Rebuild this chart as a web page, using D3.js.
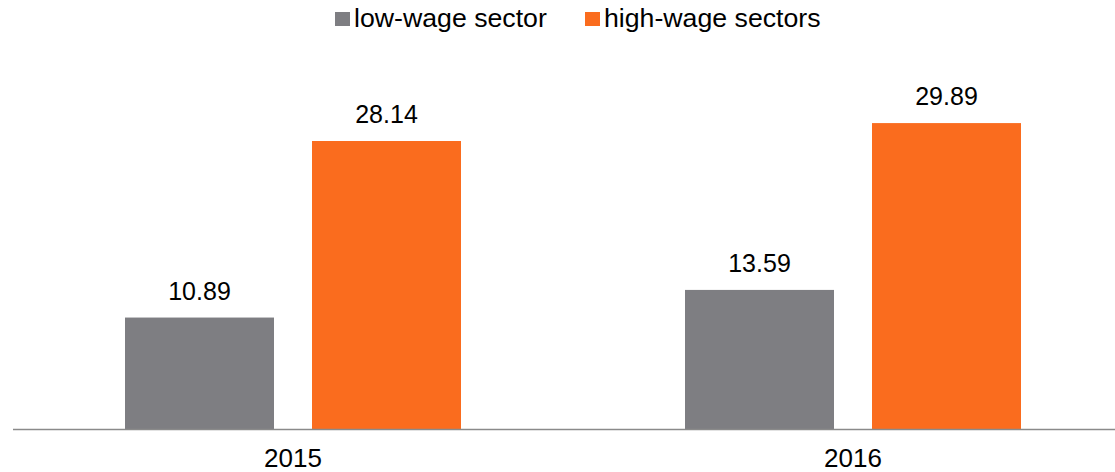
<!DOCTYPE html>
<html>
<head>
<meta charset="utf-8">
<script src="https://cdn.jsdelivr.net/npm/d3@7"></script>
<style>
  body { margin: 0; background: #fff; }
  text { font-family: "Liberation Sans", Arial, sans-serif; fill: #000; }
</style>
</head>
<body>
<div id="chart"></div>
<script>
var w = 1115,
    h = 472,
    m = [0, 0, 43, 13]; // top right bottom left

var years = ["2015", "2016"];
var seriesNames = ["low-wage sector", "high-wage sectors"];
var lowWage = [10.89, 13.59];
var highWage = [28.14, 29.89];
var colors = ["#7e7e82", "#fa6c1e"];

var baseY = h - m[2];

var x0 = d3.scaleBand()
    .domain(years)
    .range([m[3], m[3] + 1120]);

var y = d3.scaleLinear()
    .domain([0, 28.14])
    .range([baseY, 141]);

var svg = d3.select("#chart").append("svg")
    .attr("width", w)
    .attr("height", h);

var rows = years.map(function(yr, i) {
  return { year: yr, values: [lowWage[i], highWage[i]] };
});

var group = svg.selectAll("g.year")
    .data(rows)
  .enter().append("g")
    .attr("class", "year")
    .attr("transform", function(d) { return "translate(" + (x0(d.year) + x0.bandwidth() / 2) + ",0)"; });

var bw = 149;
function barX(j) { return j === 0 ? -168 : -168 + bw + 38; }

group.selectAll("rect")
    .data(function(d) { return d.values; })
  .enter().append("rect")
    .attr("x", function(d, j) { return barX(j); })
    .attr("width", bw)
    .attr("y", function(d) { return y(d); })
    .attr("height", function(d) { return baseY - y(d); })
    .attr("fill", function(d, j) { return colors[j]; });

group.selectAll("text.val")
    .data(function(d) { return d.values; })
  .enter().append("text")
    .attr("class", "val")
    .attr("x", function(d, j) { return barX(j) + bw / 2; })
    .attr("y", function(d) { return y(d) - 18; })
    .attr("text-anchor", "middle")
    .style("font-size", "25px")
    .text(function(d) { return d.toFixed(2); });

// axis line
svg.append("line")
    .attr("x1", m[3])
    .attr("x2", w)
    .attr("y1", baseY + 0.5)
    .attr("y2", baseY + 0.5)
    .attr("stroke", "#8a8a8a")
    .attr("stroke-width", 1.5);

group.append("text")
    .attr("x", 0)
    .attr("y", 467)
    .attr("text-anchor", "middle")
    .style("font-size", "26px")
    .text(function(d) { return d.year; });

// legend
var legendX = [335, 585];
var legend = svg.selectAll("g.legend")
    .data(seriesNames)
  .enter().append("g")
    .attr("class", "legend")
    .attr("transform", function(d, i) { return "translate(" + legendX[i] + ",0)"; });

legend.append("rect")
    .attr("x", 0)
    .attr("y", 12)
    .attr("width", 15)
    .attr("height", 14)
    .attr("fill", function(d, i) { return colors[i]; });

legend.append("text")
    .attr("x", 19)
    .attr("y", 27)
    .style("font-size", "26.7px")
    .text(function(d) { return d; });
</script>
</body>
</html>
